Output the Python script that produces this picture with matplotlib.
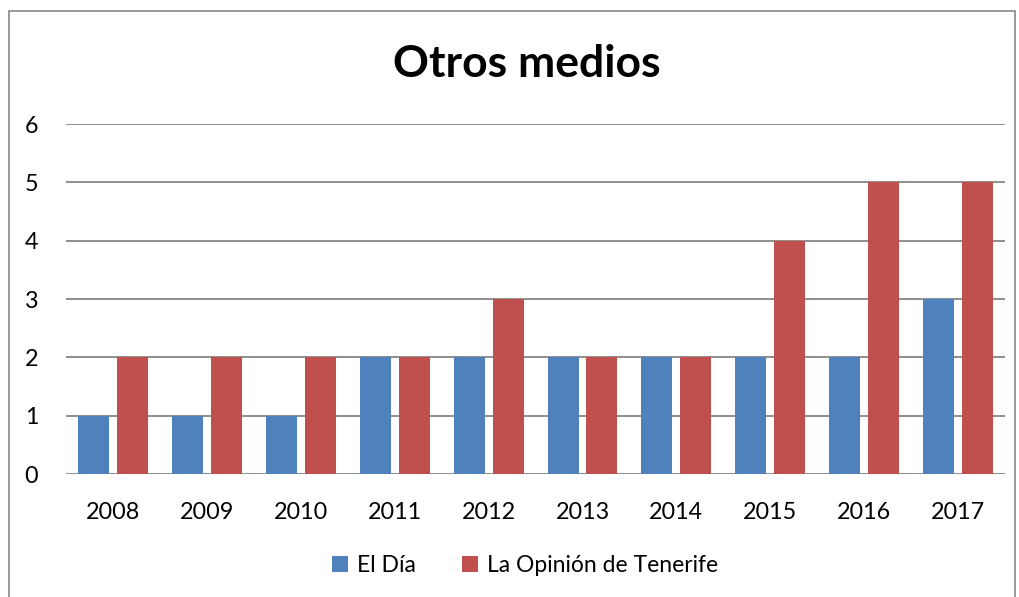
import matplotlib.pyplot as plt
import numpy as np
from matplotlib.patches import Rectangle

years = ["2008", "2009", "2010", "2011", "2012", "2013", "2014", "2015", "2016", "2017"]
el_dia = [1, 1, 1, 2, 2, 2, 2, 2, 2, 3]
la_opinion = [2, 2, 2, 2, 3, 2, 2, 4, 5, 5]

plt.rcParams["font.family"] = ["Lato", "DejaVu Sans"]

fig = plt.figure(figsize=(10.19, 5.97), dpi=100)
ax = fig.add_axes([0.0648, 0.206, 0.9215, 0.586])

x = np.arange(len(years))
w = 0.33
ax.bar(x - 0.207, el_dia, w, color="#4F81BD", label="El Día", zorder=3)
ax.bar(x + 0.207, la_opinion, w, color="#C0504D", label="La Opinión de Tenerife", zorder=3)

ax.set_xlim(-0.5, len(years) - 0.5)
ax.set_ylim(0, 6)
ax.set_yticks(range(7))
ax.set_xticks(x)
ax.set_xticklabels(years)
ax.tick_params(length=0, labelsize=16.8, colors="black")
ax.tick_params(axis="y", pad=20)
ax.tick_params(axis="x", pad=20)
ax.grid(axis="y", color="#868686", linewidth=1.3, zorder=0)
for s in ax.spines.values():
    s.set_visible(False)

fig.text(0.517, 0.893, "Otros medios", ha="center", va="center",
         fontsize=32, fontweight="bold")

fig.legend(loc="center", bbox_to_anchor=(0.515, 0.052), ncol=2, frameon=False,
           fontsize=16.5, handlelength=0.7, handleheight=0.7, columnspacing=2.0,
           handletextpad=0.4)

fig.patches.append(Rectangle((0.009, -0.01), 0.987, 0.991, transform=fig.transFigure,
                             fill=False, edgecolor="#868686", linewidth=1.2))

fig.savefig("out.png", dpi=100)
